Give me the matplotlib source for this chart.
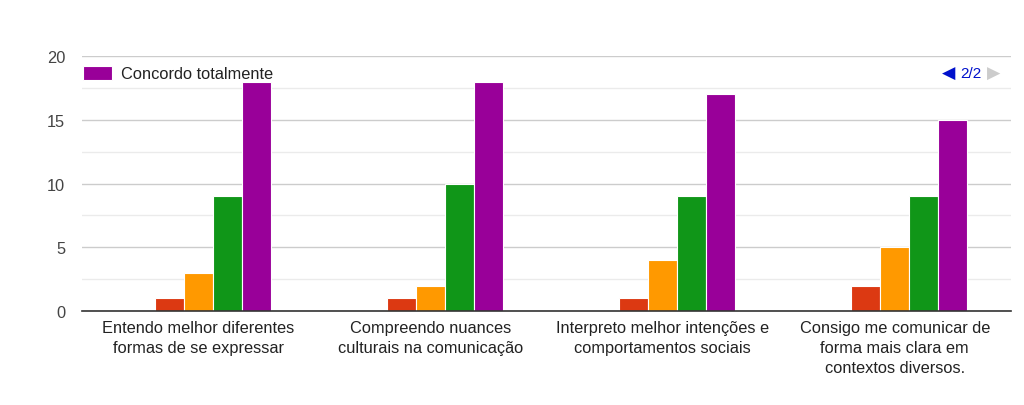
import matplotlib
matplotlib.use("Agg")
import matplotlib.pyplot as plt
import numpy as np
from matplotlib.ticker import MultipleLocator

categories = [
    "Entendo melhor diferentes\nformas de se expressar",
    "Compreendo nuances\nculturais na comunicação",
    "Interpreto melhor intenções e\ncomportamentos sociais",
    "Consigo me comunicar de\nforma mais clara em\ncontextos diversos.",
]
series_names = ["Discordo totalmente", "Discordo", "Neutro", "Concordo", "Concordo totalmente"]
discordo_totalmente = [0, 0, 0, 0]
discordo = [1, 1, 1, 2]
neutro = [3, 2, 4, 5]
concordo = [9, 10, 9, 9]
concordo_totalmente = [18, 18, 17, 15]
series_values = [discordo_totalmente, discordo, neutro, concordo, concordo_totalmente]
colors = ["#3366cc", "#dc3912", "#ff9900", "#109618", "#990099"]

plt.rcParams['font.family'] = ['Liberation Sans', 'DejaVu Sans']

fig = plt.figure(figsize=(10.24, 4.06), dpi=100)
ax = fig.add_axes([0.0801, 0.2315, 0.907, 0.628])

x = np.arange(len(categories))
w = 0.125
bars = []
for i, (name, vals, c) in enumerate(zip(series_names, series_values, colors)):
    b = ax.bar(x + (i - 2) * w, vals, width=w, color=c, edgecolor="white",
               linewidth=0.8, label=name, zorder=3)
    bars.append(b)

ax.set_xlim(-0.5, len(categories) - 0.5)
ax.set_ylim(0, 20)
ax.yaxis.set_major_locator(MultipleLocator(5))
ax.yaxis.set_minor_locator(MultipleLocator(2.5))
ax.grid(axis='y', which='major', color='#cccccc', linewidth=1, zorder=0)
ax.grid(axis='y', which='minor', color='#ebebeb', linewidth=1, zorder=0)
for s in ['top', 'right', 'left']:
    ax.spines[s].set_visible(False)
ax.spines['bottom'].set_color('#333333')
ax.spines['bottom'].set_linewidth(1.2)
ax.spines['bottom'].set_zorder(4)
ax.set_xticks(x)
ax.set_xticklabels(categories, fontsize=11.8, color='#222222', linespacing=1.42)
ax.tick_params(axis='x', length=0, pad=6.5)
ax.tick_params(axis='y', which='both', length=0, labelsize=11.8, labelcolor='#444444', pad=12)

ax.legend(handles=[bars[4]], loc='center left', bbox_to_anchor=(0.001, 0.931),
          frameon=False, borderaxespad=0, borderpad=0, handlelength=1.8, handleheight=0.9,
          handletextpad=0.5, fontsize=11.8, labelcolor='#222222')

fig.text(0.926, 0.818, "◀", family='DejaVu Sans', color='#0011cc', fontsize=12.5, ha='center', va='center')
fig.text(0.9375, 0.818, "2/2", color='#0011cc', fontsize=11, ha='left', va='center')
fig.text(0.970, 0.818, "▶", family='DejaVu Sans', color='#cccccc', fontsize=12.5, ha='center', va='center')

fig.savefig("out.png", dpi=100)
